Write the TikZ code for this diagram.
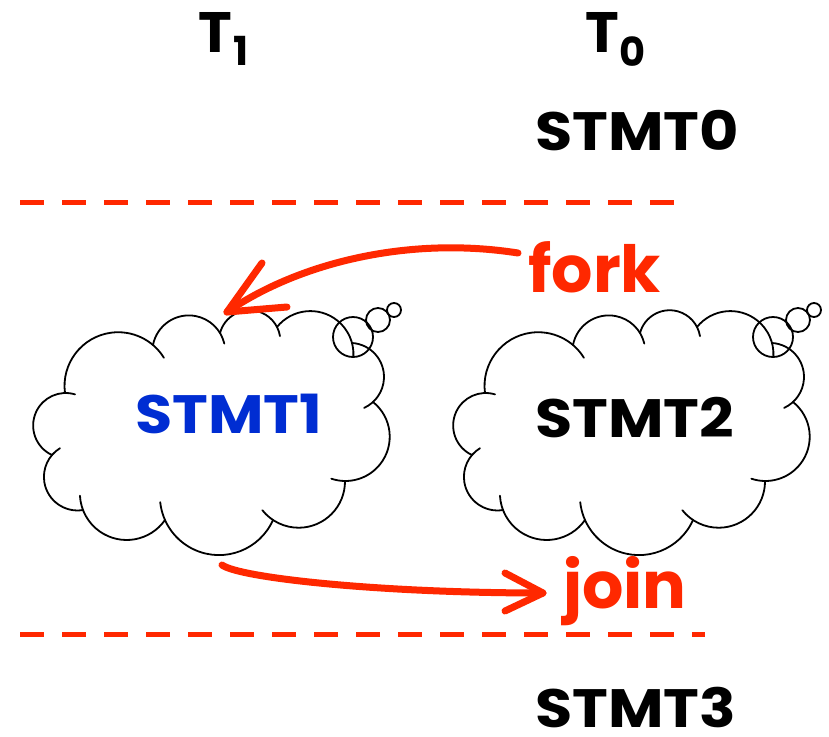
\documentclass[tikz,border=0pt]{standalone}
\usepackage{fontspec}
\setmainfont{Poppins}
\usetikzlibrary{calc}
\definecolor{fred}{RGB}{255,40,0}
\definecolor{sblue}{RGB}{0,45,210}
\newcommand\cloudbump[3]{%
  \draw[cloudline] let \p1=(#1), \p2=(#2),
    \n1={atan2(\y2-\y1,\x2-\x1)},
    \n2={veclen(\x2-\x1,\y2-\y1)/(2*sin(#3/2))} in
    (#1) arc[start angle={\n1+90+#3/2}, delta angle={-#3-18}, radius=\n2];
}
\newcommand\drawcloud{%
  \coordinate (J0) at (65,-393);
  \coordinate (J1) at (153,-345);
  \coordinate (J2) at (220,-333);
  \coordinate (J3) at (277,-327);
  \coordinate (J4) at (352,-343);
  \coordinate (J5) at (373,-402);
  \coordinate (J6) at (345,-481);
  \coordinate (J7) at (273,-520);
  \coordinate (J8) at (165,-520);
  \coordinate (J9) at (83,-510);
  \coordinate (J10) at (52,-455);
  \cloudbump{J0}{J1}{138}
  \cloudbump{J1}{J2}{138}
  \cloudbump{J2}{J3}{138}
  \cloudbump{J3}{J4}{126}
  \cloudbump{J4}{J5}{134}
  \cloudbump{J5}{J6}{142}
  \cloudbump{J6}{J7}{124}
  \cloudbump{J7}{J8}{132}
  \cloudbump{J8}{J9}{124}
  \cloudbump{J9}{J10}{140}
  \cloudbump{J10}{J0}{154}
  \draw[cloudline] (353,-337) circle[radius=20];
  \draw[cloudline] (378,-320) circle[radius=12];
  \draw[cloudline] (394,-310) circle[radius=7];
}
\newcommand\wide[1]{\scalebox{1.12}[1]{#1}}
\begin{document}
\begin{tikzpicture}[x=1pt,y=1pt,
  cloudline/.style={line width=1.8pt, draw=black, line cap=round},
  stmt/.style={font=\fontsize{54}{60}\selectfont\bfseries, inner sep=0pt, anchor=base west},
  tlabel/.style={font=\fontsize{57}{60}\selectfont\bfseries, inner sep=0pt, anchor=base west},
  redword/.style={font=\fontsize{65}{70}\selectfont\bfseries, text=fred, inner sep=0pt, anchor=base west},
  sepline/.style={draw=fred, line width=5.5pt, dash pattern=on 24pt off 18pt},
  redline/.style={draw=fred, line width=7pt, line cap=round, line join=round},
]
\useasboundingbox (0,0) rectangle (829,-736);
% thread labels
\node[tlabel] (t1) at (198,-52) {T\kern2pt\raisebox{-13pt}{\fontsize{40}{40}\selectfont 1}};
\node[tlabel] (t0) at (585,-52) {T\kern1pt\raisebox{-14pt}{\fontsize{40}{40}\selectfont 0}};
\node[stmt] (s0) at (535,-150) {\wide{STMT0}};
% separators
\coordinate (d1a) at (20,-202.7);
\coordinate (d1b) at (674,-202.7);
\coordinate (d2a) at (20,-634.7);
\coordinate (d2b) at (705,-634.7);
\draw[sepline] (d1a) -- (d1b);
\draw[sepline] (d2a) -- (d2b);
% clouds
\begin{scope}
  \drawcloud
\end{scope}
\begin{scope}[xshift=420pt]
  \drawcloud
\end{scope}
\node[stmt, text=sblue] (s1) at (135,-433) {\wide{STMT1}};
\node[stmt] (s2) at (535,-437) {\wide{STMT2}};
\node[stmt] (s3) at (535,-727) {\wide{STMT3}};
% fork / join
\node[redword] (fork) at (528,-292) {fork};
\node[redword] (join) at (563,-608) {join};
\coordinate (forkstart) at (518,-253);
\coordinate (c1top) at (227,-312);
\coordinate (c1bot) at (222,-565);
\coordinate (jointip) at (543,-593);
\draw[redline] (forkstart) .. controls (410,-236) and (300,-262) .. (c1top);
\draw[redline] ($(c1top)+(35,49)$) -- (c1top) -- ($(c1top)+(60,5)$);
\draw[redline] (c1bot) .. controls (240,-578) and (380,-593) .. (jointip);
\draw[redline] ($(jointip)+(-38,20)$) -- (jointip) -- ($(jointip)+(-38,-18)$);
\end{tikzpicture}
\end{document}
